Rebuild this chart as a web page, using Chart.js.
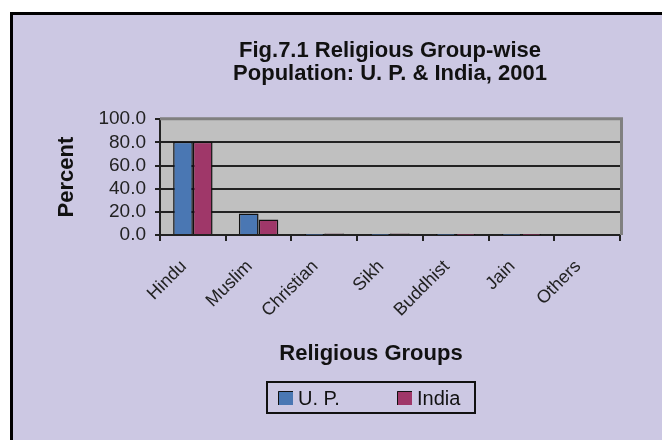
<!DOCTYPE html>
<html>
<head>
<meta charset="utf-8">
<script src="https://cdn.jsdelivr.net/npm/chart.js@4/dist/chart.umd.min.js"></script>
<style>
  html, body { margin: 0; padding: 0; background: #ffffff; }
  #wrap { width: 662px; height: 440px; }
</style>
</head>
<body>
<div id="wrap"><canvas id="c" width="662" height="440"></canvas></div>
<script>
// ---- data ----
const categories = ['Hindu', 'Muslim', 'Christian', 'Sikh', 'Buddhist', 'Jain', 'Others'];
const upValues    = [80.6, 18.5, 0.1, 0.1, 0.1, 0.1, 0.0];
const indiaValues = [80.5, 13.4, 1.3, 1.3, 0.1, 0.1, 0.0];
const seriesNames = ['U. P.', 'India'];
const titleLines  = ['Fig.7.1 Religious Group-wise', 'Population: U. P. & India, 2001'];
const yTitle = 'Percent';
const xTitle = 'Religious Groups';

const FONT = "'Liberation Sans', Arial, Helvetica, sans-serif";
const BG = '#CCC8E3';
const PLOT_BG = '#C0C0C0';
const BLUE = '#4A77B3';
const PINK = '#9F3769';

const framePlugin = {
  id: 'frame',
  beforeDraw(chart) {
    const ctx = chart.ctx;
    const { chartArea: a } = chart;
    ctx.save();
    ctx.fillStyle = '#ffffff';
    ctx.fillRect(0, 0, chart.width, chart.height);
    ctx.fillStyle = BG;
    ctx.fillRect(11, 13, chart.width - 11, chart.height - 13);
    ctx.strokeStyle = '#000000';
    ctx.lineWidth = 3;
    ctx.beginPath();
    ctx.moveTo(11.5, chart.height);
    ctx.lineTo(11.5, 13.5);
    ctx.lineTo(chart.width, 13.5);
    ctx.stroke();
    ctx.fillStyle = PLOT_BG;
    ctx.fillRect(a.left, a.top, a.right - a.left, a.bottom - a.top);
    ctx.restore();
  },
  beforeDatasetsDraw(chart) {
    const ctx = chart.ctx;
    const a = chart.chartArea;
    ctx.save();
    ctx.strokeStyle = '#808080';
    ctx.lineWidth = 3;
    ctx.beginPath();
    ctx.moveTo(a.left, a.top - 0.5);
    ctx.lineTo(a.right + 1.5, a.top - 0.5);
    ctx.lineTo(a.right + 1.5, a.bottom);
    ctx.stroke();
    ctx.restore();
  },
  afterDraw(chart) {
    const ctx = chart.ctx;
    ctx.save();
    // x axis title
    ctx.fillStyle = '#111111';
    ctx.font = 'bold 22px ' + FONT;
    ctx.textAlign = 'center';
    ctx.textBaseline = 'middle';
    ctx.fillText(xTitle, 371, 354);
    // legend
    const bx = 267, by = 382, bw = 208, bh = 31;
    ctx.strokeStyle = '#111111';
    ctx.lineWidth = 2;
    ctx.strokeRect(bx, by, bw, bh);
    const itemX = [278, 397];
    ctx.font = '20px ' + FONT;
    ctx.textAlign = 'left';
    chart.data.datasets.forEach((ds, i) => {
      const x = itemX[i];
      ctx.fillStyle = ds.backgroundColor;
      ctx.fillRect(x, 391, 15, 14);
      ctx.strokeStyle = '#111111';
      ctx.lineWidth = 1;
      ctx.beginPath();
      ctx.moveTo(x + 0.5, 405);
      ctx.lineTo(x + 0.5, 391.5);
      ctx.lineTo(x + 15, 391.5);
      ctx.stroke();
      ctx.fillStyle = '#111111';
      ctx.fillText(ds.label, x + 20, 399);
    });
    ctx.restore();
  }
};

new Chart(document.getElementById('c'), {
  type: 'bar',
  data: {
    labels: categories,
    datasets: [
      { label: seriesNames[0], data: upValues, backgroundColor: BLUE, borderColor: '#111111', borderWidth: 1.5 },
      { label: seriesNames[1], data: indiaValues, backgroundColor: PINK, borderColor: '#111111', borderWidth: 1.5 }
    ]
  },
  options: {
    responsive: false,
    animation: false,
    devicePixelRatio: 1,
    categoryPercentage: 0.6,
    barPercentage: 1.0,
    layout: { padding: { left: 10, right: 42, top: 0, bottom: 0 } },
    plugins: {
      legend: { display: false },
      tooltip: { enabled: false },
      title: {
        display: true,
        fullSize: false,
        text: titleLines,
        color: '#111111',
        font: { family: FONT, size: 22, weight: 'bold', lineHeight: 1.05 },
        padding: { top: 39, bottom: 34 }
      }
    },
    scales: {
      x: {
        afterFit(scale) { scale.height = 205; },
        grid: { display: true, drawOnChartArea: false, color: '#222222', lineWidth: 2, tickLength: 6, offset: true },
        border: { display: true, color: '#222222', width: 2 },
        ticks: {
          color: '#222222',
          font: { family: FONT, size: 18 },
          minRotation: 45, maxRotation: 45,
          padding: 15,
          labelOffset: -9,
          autoSkip: false
        }
      },
      y: {
        min: 0, max: 100,
        afterFit(scale) { scale.width = 150; },
        ticks: {
          stepSize: 20,
          autoSkip: false,
          color: '#222222',
          font: { family: FONT, size: 19 },
          padding: 9,
          callback: (v) => Number(v).toFixed(1)
        },
        grid: {
          color: (c) => (c.tick && c.tick.value === 100) ? '#808080' : '#222222',
          tickColor: '#222222',
          lineWidth: 2,
          tickLength: 5
        },
        border: { display: true, color: '#222222', width: 2 },
        title: {
          display: true,
          text: yTitle,
          color: '#111111',
          font: { family: FONT, size: 22, weight: 'bold' },
          padding: { top: 44, bottom: 0 }
        }
      }
    }
  },
  plugins: [framePlugin]
});
</script>
</body>
</html>
